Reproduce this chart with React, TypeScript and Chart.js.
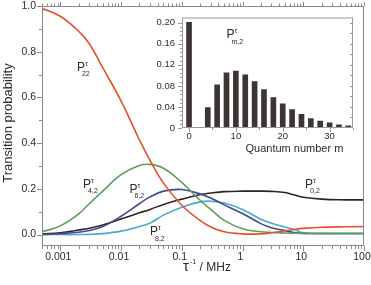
import React, { useEffect, useRef } from "react";
import { Chart, registerables } from "chart.js";

Chart.register(...registerables);

const FONT = "'Liberation Sans', Arial, Helvetica, sans-serif";
const TEXT = "#2b2b2b";
const FRAME = "#8a8a8a";

// ---- main chart data (x: inverse correlation time in MHz) ----
const rateValues = [0.0005, 0.001, 0.002, 0.003, 0.005, 0.01, 0.02, 0.03, 0.05, 0.1, 0.2, 0.3, 0.5, 1, 2, 3, 5, 7, 10, 20, 50, 100];
const p22Values = [0.99, 0.955, 0.89, 0.835, 0.73, 0.585, 0.415, 0.325, 0.225, 0.128, 0.062, 0.033, 0.012, 0.003, 0.003, 0.008, 0.016, 0.022, 0.027, 0.032, 0.034, 0.035];
const p42Values = [0.012, 0.038, 0.09, 0.135, 0.19, 0.262, 0.302, 0.307, 0.29, 0.228, 0.15, 0.11, 0.062, 0.025, 0.012, 0.009, 0.007, 0.006, 0.005, 0.005, 0.005, 0.005];
const p62Values = [0.0, 0.004, 0.01, 0.018, 0.035, 0.08, 0.135, 0.165, 0.19, 0.197, 0.178, 0.16, 0.13, 0.092, 0.048, 0.03, 0.018, 0.009, 0.005, 0.005, 0.005, 0.005];
const p82Values = [0.0, 0.0, 0.0, 0.001, 0.004, 0.015, 0.035, 0.05, 0.085, 0.12, 0.143, 0.146, 0.138, 0.11, 0.067, 0.05, 0.033, 0.023, 0.008, 0.005, 0.005, 0.005];
const p02Values = [0.003, 0.008, 0.02, 0.028, 0.042, 0.068, 0.095, 0.11, 0.132, 0.155, 0.175, 0.182, 0.188, 0.19, 0.19, 0.189, 0.184, 0.174, 0.163, 0.155, 0.152, 0.152];

const xMajorTicks = [0.001, 0.01, 0.1, 1, 10, 100];
const xTickLabels = ["0.001", "0.01", "0.1", "1", "10", "100"];
const yMajorTicks = [0, 0.2, 0.4, 0.6, 0.8, 1.0];
const yTickLabels = ["0.0", "0.2", "0.4", "0.6", "0.8", "1.0"];

// curve annotations (data coordinates)
const curveLabelSubs = ["22", "4,2", "6,2", "8,2", "0,2"];
const curveLabelX = [0.00188, 0.00237, 0.0138, 0.030, 10.7];
const curveLabelY = [0.716, 0.204, 0.182, -0.002, 0.204];

// ---- inset data ----
const quantumNumbers = [0, 4, 6, 8, 10, 12, 14, 16, 18, 20, 22, 24, 26, 28, 30, 32, 34];
const pm2Values = [0.201, 0.039, 0.082, 0.105, 0.108, 0.101, 0.088, 0.073, 0.058, 0.046, 0.035, 0.026, 0.018, 0.013, 0.0098, 0.006, 0.004];
const insetXTicks = [0, 10, 20, 30];
const insetXLabels = ["0", "10", "20", "30"];
const insetYTicks = [0, 0.04, 0.08, 0.12, 0.16, 0.2];
const insetYLabels = ["0", "0.04", "0.08", "0.12", "0.16", "0.20"];

function drawPLabel(ctx: CanvasRenderingContext2D, x: number, y: number, sub: string) {
  ctx.save();
  ctx.fillStyle = TEXT;
  ctx.textAlign = "left";
  ctx.textBaseline = "alphabetic";
  ctx.font = `12px ${FONT}`;
  ctx.fillText("P", x, y);
  ctx.font = `7px ${FONT}`;
  ctx.fillText("τ", x + 8, y - 5);
  ctx.fillText(sub, x + 5, y + 5.5);
  ctx.restore();
}

function line(ctx: CanvasRenderingContext2D, x1: number, y1: number, x2: number, y2: number) {
  ctx.beginPath();
  ctx.moveTo(x1, y1);
  ctx.lineTo(x2, y2);
  ctx.stroke();
}

const mainDecor = {
  id: "mainDecor",
  afterDraw(chart: any) {
    const ctx: CanvasRenderingContext2D = chart.ctx;
    const { left, right, top, bottom } = chart.chartArea;
    const xs = chart.scales.x;
    const ys = chart.scales.y;
    ctx.save();
    ctx.strokeStyle = FRAME;
    ctx.lineWidth = 1;
    ctx.strokeRect(left + 0.5, top + 0.5, right - left - 1, bottom - top - 1);
    for (let d = -4; d <= 2; d++) {
      for (let k = 1; k <= 9; k++) {
        const v = k * Math.pow(10, d);
        if (v < xs.min * 0.999 || v > xs.max * 1.001) continue;
        const px = Math.round(xs.getPixelForValue(v)) + 0.5;
        const len = k === 1 ? 5 : 3;
        line(ctx, px, bottom, px, bottom + len);
        line(ctx, px, top, px, top - (k === 1 ? 4 : 2.5));
      }
    }
    for (let i = 0; i <= 10; i++) {
      const v = i / 10;
      const py = Math.round(ys.getPixelForValue(v)) + 0.5;
      const len = i % 2 === 0 ? 5 : 3;
      line(ctx, left, py, left - len, py);
    }
    ctx.restore();

    ctx.save();
    ctx.fillStyle = TEXT;
    ctx.textBaseline = "alphabetic";
    ctx.translate(12, 123);
    ctx.rotate(-Math.PI / 2);
    ctx.textAlign = "center";
    ctx.font = `13px ${FONT}`;
    ctx.fillText("Transition probability", 0, 0);
    ctx.restore();

    ctx.save();
    ctx.fillStyle = TEXT;
    ctx.textBaseline = "alphabetic";
    ctx.textAlign = "left";
    ctx.font = `15px ${FONT}`;
    const wTau = ctx.measureText("τ").width;
    ctx.font = `7px ${FONT}`;
    const wSup = ctx.measureText("-1").width;
    ctx.font = `12px ${FONT}`;
    const wRest = ctx.measureText(" / MHz").width;
    const total = wTau + 1 + wSup + wRest;
    let tx = (left + right) / 2 + 4 - total / 2;
    const base = 271;
    ctx.font = `15px ${FONT}`;
    ctx.fillText("τ", tx, base);
    tx += wTau + 1;
    ctx.font = `7px ${FONT}`;
    ctx.fillText("-1", tx, base - 7);
    tx += wSup;
    ctx.font = `12px ${FONT}`;
    ctx.fillText(" / MHz", tx, base);
    ctx.restore();

    for (let i = 0; i < curveLabelSubs.length; i++) {
      drawPLabel(ctx, xs.getPixelForValue(curveLabelX[i]), ys.getPixelForValue(curveLabelY[i]), curveLabelSubs[i]);
    }
  },
};

const insetDecor = {
  id: "insetDecor",
  afterDraw(chart: any) {
    const ctx: CanvasRenderingContext2D = chart.ctx;
    const { left, right, top, bottom } = chart.chartArea;
    const xs = chart.scales.x;
    const ys = chart.scales.y;
    ctx.save();
    ctx.strokeStyle = "#9a9a9a";
    ctx.lineWidth = 1;
    ctx.strokeRect(left + 0.5, top + 0.5, right - left - 1, bottom - top - 1);
    for (let i = 0; i <= 25; i++) {
      const v = i * 0.008;
      const py = Math.round(ys.getPixelForValue(v)) + 0.5;
      const len = i % 5 === 0 ? 4 : 2;
      line(ctx, left, py, left - len, py);
    }
    for (let i = 1; i <= 10; i++) {
      const py = Math.round(ys.getPixelForValue(i * 0.02)) + 0.5;
      line(ctx, right, py, right - 3, py);
    }
    for (let m = 0; m <= 35; m += 5) {
      const px = Math.round(xs.getPixelForValue(m)) + 0.5;
      line(ctx, px, bottom, px, bottom + (m % 10 === 0 ? 4 : 2));
    }
    ctx.restore();

    ctx.save();
    ctx.fillStyle = TEXT;
    ctx.textAlign = "center";
    ctx.textBaseline = "alphabetic";
    ctx.font = `11px ${FONT}`;
    ctx.fillText("Quantum number m", xs.getPixelForValue(22.5), 151.5);
    ctx.restore();

    drawPLabel(ctx, xs.getPixelForValue(8.0), ys.getPixelForValue(0.171), "m,2");
  },
};

export default function App() {
  const mainRef = useRef<HTMLCanvasElement | null>(null);
  const insetRef = useRef<HTMLCanvasElement | null>(null);

  useEffect(() => {
    const mk = (vals: number[]) => rateValues.map((x, i) => ({ x, y: vals[i] }));
    const ds = (label: string, vals: number[], color: string) => ({
      label,
      data: mk(vals),
      borderColor: color,
      backgroundColor: color,
      borderWidth: 1.6,
      pointRadius: 0,
      showLine: true,
      fill: false,
      tension: 0.4,
    });
    const main = new Chart(mainRef.current!, {
      type: "scatter",
      data: {
        datasets: [
          ds("P22", p22Values, "#e8502c"),
          ds("P42", p42Values, "#5f9d5d"),
          ds("P62", p62Values, "#3e4c8e"),
          ds("P82", p82Values, "#4aa8d5"),
          ds("P02", p02Values, "#2e2425"),
        ],
      },
      options: {
        animation: false,
        responsive: false,
        devicePixelRatio: 1,
        layout: { padding: { left: 0, right: 7, top: 6, bottom: 0 } },
        plugins: { legend: { display: false }, tooltip: { enabled: false } },
        scales: {
          x: {
            type: "logarithmic",
            min: 0.0005,
            max: 100,
            grid: { display: false, drawTicks: false },
            border: { display: false },
            ticks: {
              color: TEXT,
              font: { family: FONT, size: 10.5 },
              padding: 5,
              labelOffset: -2,
              maxRotation: 0,
              autoSkip: false,
              callback: (_v: any, i: number) => xTickLabels[i],
            },
            afterBuildTicks: (s: any) => {
              s.ticks = xMajorTicks.map((v) => ({ value: v }));
            },
            afterFit: (s: any) => {
              s.height = 39;
              s.paddingLeft = 0;
              s.paddingRight = 0;
            },
          },
          y: {
            type: "linear",
            min: -0.05,
            max: 1.0,
            grid: { display: false, drawTicks: false },
            border: { display: false },
            ticks: {
              color: TEXT,
              font: { family: FONT, size: 10.5 },
              padding: 6,
              autoSkip: false,
              callback: (_v: any, i: number) => yTickLabels[i],
            },
            afterBuildTicks: (s: any) => {
              s.ticks = yMajorTicks.map((v) => ({ value: v }));
            },
            afterFit: (s: any) => {
              s.width = 42;
              s.paddingTop = 0;
              s.paddingBottom = 0;
            },
          },
        },
      },
      plugins: [mainDecor],
    });

    const inset = new Chart(insetRef.current!, {
      type: "bar",
      data: {
        datasets: [
          {
            label: "Pm2",
            data: quantumNumbers.map((m, i) => ({ x: m, y: pm2Values[i] })),
            backgroundColor: "#3d3434",
            borderWidth: 0,
            barThickness: 5,
          },
        ],
      },
      options: {
        animation: false,
        responsive: false,
        devicePixelRatio: 1,
        layout: { padding: { left: 0, right: 18, top: 17.5, bottom: 0 } },
        plugins: { legend: { display: false }, tooltip: { enabled: false } },
        scales: {
          x: {
            type: "linear",
            min: -1.5,
            max: 35,
            offset: false,
            grid: { display: false, drawTicks: false, offset: false },
            border: { display: false },
            ticks: {
              color: TEXT,
              font: { family: FONT, size: 9.5 },
              padding: 3,
              maxRotation: 0,
              autoSkip: false,
              callback: (_v: any, i: number) => insetXLabels[i],
            },
            afterBuildTicks: (s: any) => {
              s.ticks = insetXTicks.map((v) => ({ value: v }));
            },
            afterFit: (s: any) => {
              s.height = 157;
              s.paddingLeft = 0;
              s.paddingRight = 0;
            },
          },
          y: {
            type: "linear",
            min: 0,
            max: 0.21,
            grid: { display: false, drawTicks: false },
            border: { display: false },
            ticks: {
              color: TEXT,
              font: { family: FONT, size: 9.5 },
              padding: 7,
              autoSkip: false,
              callback: (_v: any, i: number) => insetYLabels[i],
            },
            afterBuildTicks: (s: any) => {
              s.ticks = insetYTicks.map((v) => ({ value: v }));
            },
            afterFit: (s: any) => {
              s.width = 182;
              s.paddingTop = 0;
              s.paddingBottom = 0;
            },
          },
        },
      },
      plugins: [insetDecor],
    });

    return () => {
      main.destroy();
      inset.destroy();
    };
  }, []);

  return (
    <div style={{ position: "fixed", left: 0, top: 0, width: 371, height: 285, background: "#fff" }}>
      <canvas ref={mainRef} width={371} height={285} style={{ position: "absolute", left: 0, top: 0, width: 371, height: 285 }} />
      <canvas ref={insetRef} width={371} height={285} style={{ position: "absolute", left: 0, top: 0, width: 371, height: 285 }} />
    </div>
  );
}
